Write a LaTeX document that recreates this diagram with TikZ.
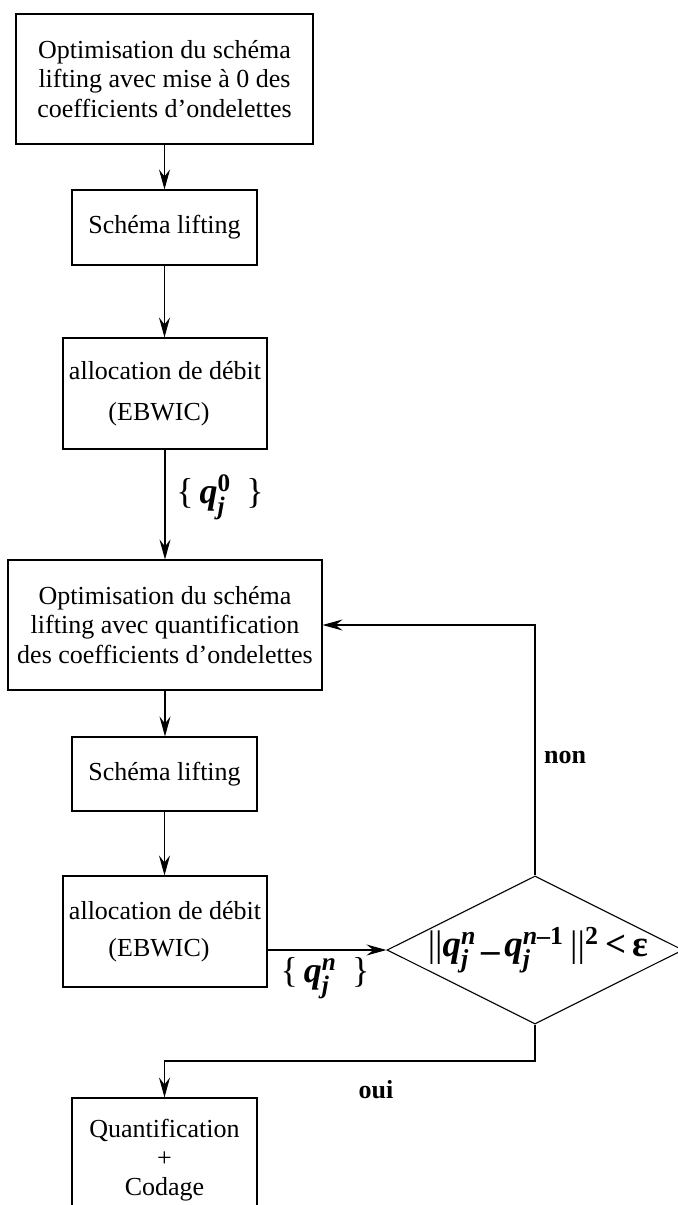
\documentclass[tikz,border=0pt]{standalone}
\usepackage{amsmath}
\usepackage{fontspec}
\setmainfont{Liberation Serif}
\usetikzlibrary{arrows.meta,shapes.geometric}
\newcommand{\qsym}[1]{$\text{\bfseries\itshape q}^{\text{#1}}_{\text{\bfseries\itshape j}}$}
\tikzset{
  box/.style={draw, line width=0.55pt, inner sep=0pt, align=center,
    font=\fontsize{13}{14.6}\selectfont},
  arr/.style={line width=0.55pt, -{Stealth[length=10pt,width=5.5pt,inset=3.5pt]}},
  lbl/.style={font=\fontsize{13}{14.6}\selectfont\bfseries, inner sep=0pt},
  mathlbl/.style={font=\fontsize{18}{20}\selectfont, inner sep=0pt}
}
\begin{document}
\begin{tikzpicture}[x=0.5pt,y=-0.5pt]
\useasboundingbox (0,0) rectangle (677,1205);

\node[box, minimum width=148.5pt, minimum height=65pt] (b1) at (164.5,79)
  {Optimisation du schéma\\lifting avec mise à 0 des\\coefficients d’ondelettes};
\node[box, minimum width=92.5pt, minimum height=37.5pt] (b2) at (164.5,227.5)
  {Schéma lifting};
\node[box, minimum width=102pt, minimum height=55.5pt,
  font=\fontsize{13}{20.5}\selectfont] (b3) at (165,393.5)
  {allocation de débit\\\hspace*{-6pt}(EBWIC)};
\node[box, minimum width=157pt, minimum height=65pt] (b4) at (165,625)
  {Optimisation du schéma\\lifting avec quantification\\des coefficients d’ondelettes};
\node[box, minimum width=92.5pt, minimum height=37pt] (b5) at (164.5,774)
  {Schéma lifting};
\node[box, minimum width=102pt, minimum height=55.5pt,
  font=\fontsize{13}{18.5}\selectfont] (b6) at (165,931.5)
  {allocation de débit\\\hspace*{-6pt}(EBWIC)};
\node[box, minimum width=92.5pt, minimum height=62pt] (b7) at (164.5,1160)
  {Quantification\\+\\Codage};

\node[draw, line width=0.55pt, shape=diamond, inner sep=0pt,
  minimum width=148pt, minimum height=74pt] (d) at (535,950) {};
\node[font=\fontsize{18.5}{22}\selectfont, inner sep=0pt] (dt) at (538,950)
  {||\qsym{\bfseries\itshape n}\kern2.5pt\raisebox{-3pt}{\textbf{–}}\kern2pt\qsym{\bfseries\itshape n\upshape–1}\,||$^{\text{\bfseries 2}}$\,\textbf{<}\,\textbf{ε}};

\node[mathlbl] (l0) at (220,497) {\{\,\qsym{\bfseries 0}\,\ \}};
\node[mathlbl] (ln) at (325,978) {\{\,\qsym{\bfseries\itshape n}\,\ \}};
\node[lbl] (non) at (565,757) {non};
\node[lbl] (oui) at (376,1090) {oui};

\coordinate (c1) at (535,1061);

\draw[arr] (b1.south) -- (b1.south |- b2.north);
\draw[arr] (b2.south) -- (b2.south |- b3.north);
\draw[arr] (b3.south) -- (b3.south |- b4.north);
\draw[arr] (b4.south) -- (b4.south |- b5.north);
\draw[arr] (b5.south) -- (b5.south |- b6.north);
\draw[arr] (b6.east |- d.west) -- (d.west);
\draw[arr] (d.north) |- (b4.east);
\draw[arr] (d.south) -- (c1) -| (b7.north);
\end{tikzpicture}
\end{document}
